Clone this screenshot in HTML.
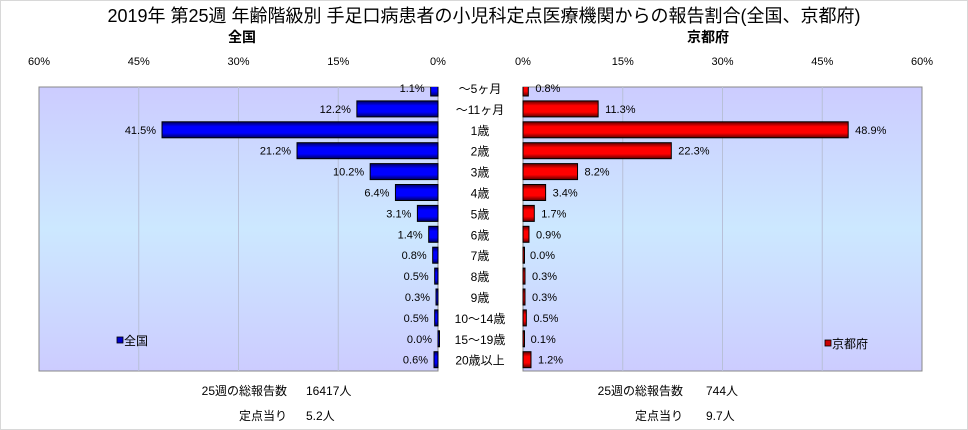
<!DOCTYPE html>
<html><head><meta charset="utf-8"><style>
html,body{margin:0;padding:0;background:#fff}
svg{display:block;font-family:"Liberation Sans","Noto Sans CJK JP",sans-serif}
</style></head><body>
<svg id="c" width="968" height="430" viewBox="0 0 968 430" xmlns="http://www.w3.org/2000/svg">
<defs>
<linearGradient id="bg" x1="0" y1="0" x2="0" y2="1">
<stop offset="0" stop-color="#ccccff"/><stop offset="0.5" stop-color="#cce8ff"/><stop offset="1" stop-color="#ccccff"/></linearGradient>
<linearGradient id="gb" x1="0" y1="0" x2="0" y2="1">
<stop offset="0" stop-color="#000060"/><stop offset="0.3" stop-color="#0000ff"/><stop offset="0.7" stop-color="#0000ff"/><stop offset="1" stop-color="#000060"/></linearGradient>
<linearGradient id="gr" x1="0" y1="0" x2="0" y2="1">
<stop offset="0" stop-color="#600000"/><stop offset="0.3" stop-color="#ff0000"/><stop offset="0.7" stop-color="#ff0000"/><stop offset="1" stop-color="#600000"/></linearGradient>
<clipPath id="cl"><rect x="0" y="87" width="968" height="284"/></clipPath>
</defs>
<rect x="0.5" y="0.5" width="967" height="429" fill="#fff" stroke="#d8d8d8"/>
<text x="484" y="22" font-size="18" text-anchor="middle">2019年 第25週 年齢階級別 手足口病患者の小児科定点医療機関からの報告割合(全国、京都府)</text>
<text x="242" y="42" font-size="14" font-weight="bold" text-anchor="middle">全国</text>
<text x="708" y="42" font-size="14" font-weight="bold" text-anchor="middle">京都府</text>
<rect x="39" y="87" width="399" height="284" fill="url(#bg)" stroke="#888"/>
<rect x="523" y="87" width="399" height="284" fill="url(#bg)" stroke="#888"/>
<g id="g"></g>
<rect x="117" y="337" width="6" height="6" fill="#0000cc" stroke="#000" stroke-width="0.8"/>
<text x="124" y="345" font-size="12">全国</text>
<rect x="825" y="340" width="6" height="6" fill="#cc0000" stroke="#000" stroke-width="0.8"/>
<text x="832" y="348" font-size="12">京都府</text>
<g font-size="12">
<text x="287" y="395" text-anchor="end">25週の総報告数</text>
<text x="306" y="395">16417人</text>
<text x="287" y="420" text-anchor="end">定点当り</text>
<text x="306" y="420">5.2人</text>
<text x="683" y="395" text-anchor="end">25週の総報告数</text>
<text x="706" y="395">744人</text>
<text x="683" y="420" text-anchor="end">定点当り</text>
<text x="706" y="420">9.7人</text>
</g>
</svg>
<script>
const categories=["～5ヶ月","～11ヶ月","1歳","2歳","3歳","4歳","5歳","6歳","7歳","8歳","9歳","10～14歳","15～19歳","20歳以上"];
const zenkoku=[1.1,12.2,41.5,21.2,10.2,6.4,3.1,1.4,0.8,0.5,0.3,0.5,0.0,0.6];
const kyoto=[0.8,11.3,48.9,22.3,8.2,3.4,1.7,0.9,0.0,0.3,0.3,0.5,0.1,1.2];
const ticks=[0,15,30,45,60];
const NS="http://www.w3.org/2000/svg";
const g=document.getElementById('g');
const L0=438,R0=523,W=399,MAX=60;
const xl=v=>L0-v/MAX*W, xr=v=>R0+v/MAX*W;
const yc=i=>88+i*20.9;
function mk(t,a,p){const e=document.createElementNS(NS,t);for(const k in a)e.setAttribute(k,a[k]);(p||g).appendChild(e);return e;}
ticks.forEach(t=>{
  if(t>0&&t<60){
    const a=mk('line',{x1:xl(t),x2:xl(t),y1:87,y2:371,stroke:'#b8c0d8'});
    
    
    const b=mk('line',{x1:xr(t),x2:xr(t),y1:87,y2:371,stroke:'#b8c0d8'});
    
    
  }
  const tl=mk('text',{x:xl(t),y:65,'font-size':11,'text-anchor':'middle'});tl.textContent=t+'%';
  
  
  const tr=mk('text',{x:xr(t),y:65,'font-size':11,'text-anchor':'middle'});tr.textContent=t+'%';
  
  
});
const clipG=mk('g',{'clip-path':'url(#cl)'});
categories.forEach((c,i)=>{
  const y=yc(i);
  const cl=mk('text',{x:480,y:y+5,'font-size':12,'text-anchor':'middle'});cl.textContent=c;
  
  
  const v=zenkoku[i];
  const bl=mk('rect',{x:xl(v),y:y-8,width:Math.max(L0-xl(v),1.5),height:16,fill:'url(#gb)',stroke:'#000','stroke-width':1},clipG);
  
  
  const vl=mk('text',{x:xl(v)-6,y:y+4,'font-size':11,'text-anchor':'end'});vl.textContent=v.toFixed(1)+'%';
  
  
  const w=kyoto[i];
  const br=mk('rect',{x:R0,y:y-8,width:Math.max(xr(w)-R0,1.5),height:16,fill:'url(#gr)',stroke:'#000','stroke-width':1},clipG);
  
  
  const vr=mk('text',{x:xr(w)+7,y:y+4,'font-size':11});vr.textContent=w.toFixed(1)+'%';
  
  
});
</script>
</body></html>
